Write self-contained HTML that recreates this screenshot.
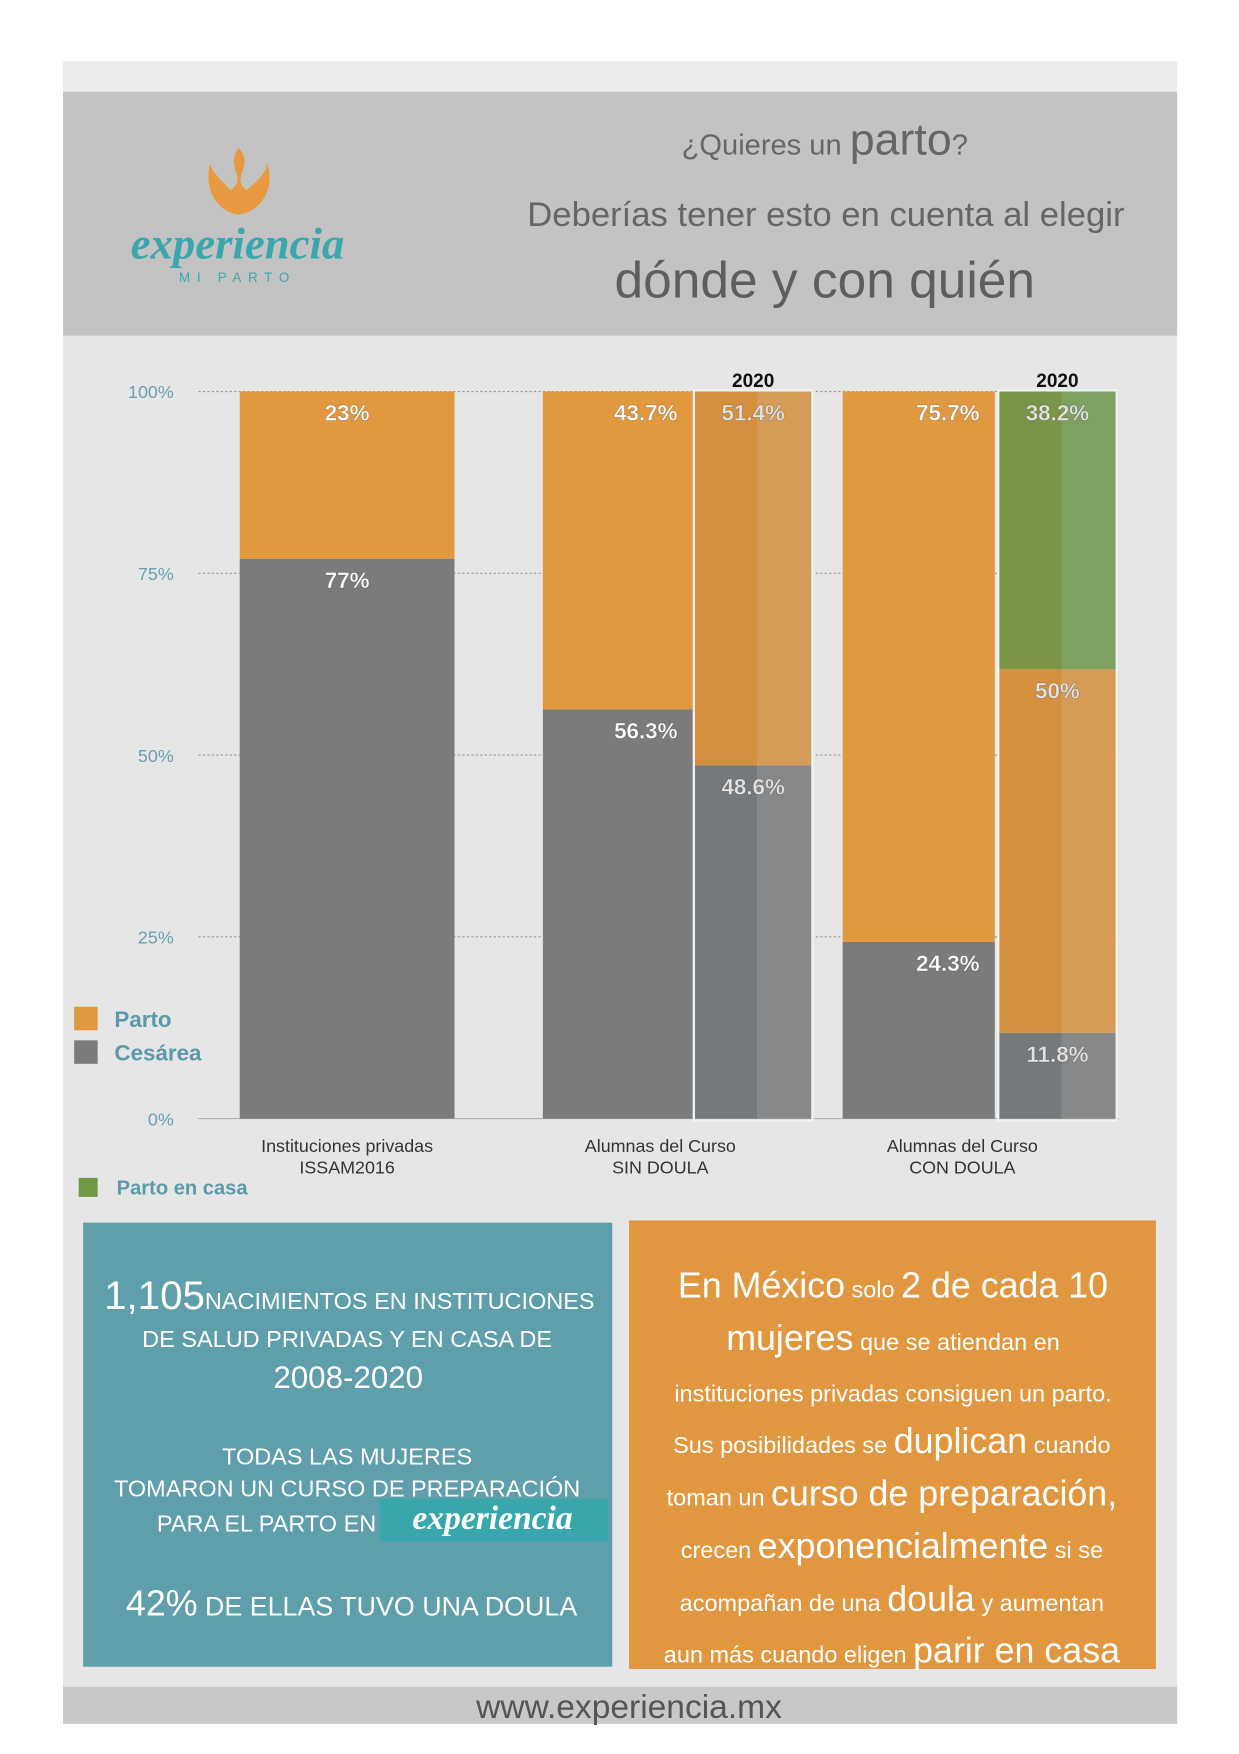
<!DOCTYPE html>
<html><head><meta charset="utf-8"><style>
html,body{margin:0;padding:0;background:#fff}
svg{display:block;font-family:"Liberation Sans","DejaVu Sans",sans-serif}
</style></head><body>
<svg id="chart" width="1239" height="1754" viewBox="0 0 1107 1568" xmlns="http://www.w3.org/2000/svg">
<rect x="0" y="0" width="1107" height="1568" fill="#fff"/>
<rect x="56" y="55" width="996" height="1486" fill="#e6e6e6"/>
<rect x="56" y="55" width="996" height="27" fill="#ebebeb"/>
<rect x="56" y="82" width="996" height="218" fill="#c3c3c3"/>
<g>
<path d="M213 132 C200 150 222 158 206 170 C196 160 186 150 188 145 C182 165 190 188 213 192 C236 188 246 165 238 145 C240 152 230 162 220 170 C205 158 228 150 213 132Z" fill="#e8993f"/>
<text x="212" y="231" text-anchor="middle" font-size="40" fill="#3aa7ad" font-family="'Liberation Serif',serif" font-style="italic" font-weight="bold">experiencia</text>
<text x="212" y="252" text-anchor="middle" font-size="12" fill="#3aa7ad" letter-spacing="6">MI PARTO</text>
</g>
<text x="737" y="138" text-anchor="middle" fill="#666" font-size="26">¿Quieres un <tspan font-size="40">parto</tspan>?</text>
<text x="738" y="202" text-anchor="middle" fill="#666" font-size="31">Deberías tener esto en cuenta al elegir</text>
<text x="737" y="266" text-anchor="middle" fill="#5e5e5e" font-size="46">dónde y con quién</text>
<g id="grid"></g>
<g id="bars"></g>
<g id="labels"></g>
<g>
<rect x="66" y="900" width="21" height="21" fill="#e0993f"/>
<text x="102" y="918" font-size="20" fill="#5b9aa8" font-weight="bold">Parto</text>
<rect x="66" y="930" width="21" height="21" fill="#7b7b7b"/>
<text x="102" y="948" font-size="20" fill="#5b9aa8" font-weight="bold">Cesárea</text>
<rect x="70" y="1053" width="17" height="17" fill="#6f9a45"/>
<text x="104" y="1068" font-size="18" fill="#5b9aa8" font-weight="bold">Parto en casa</text>
</g>
<rect x="74" y="1093" width="473" height="397" fill="#5f9eab"/>
<g fill="#fff" text-anchor="middle" font-size="21">
<text x="312" y="1170"><tspan font-size="36">1,105</tspan>NACIMIENTOS EN INSTITUCIONES</text>
<text x="310" y="1204">DE SALUD PRIVADAS Y EN CASA DE</text>
<text x="311" y="1241" font-size="28">2008-2020</text>
<text x="310" y="1309">TODAS LAS MUJERES</text>
<text x="310" y="1338">TOMARON UN CURSO DE PREPARACIÓN</text>
<text x="238" y="1369">PARA EL PARTO EN</text>
<rect x="339" y="1340" width="204" height="38" fill="#38a6ad"/>
<text x="440" y="1367" font-size="30" font-style="italic" font-weight="bold" font-family="'Liberation Serif',serif">experiencia</text>
<text x="314" y="1444" font-size="24"><tspan font-size="32">42%</tspan> DE ELLAS  TUVO UNA DOULA</text>
</g>
<rect x="562" y="1091" width="471" height="401" fill="#e1973f"/>
<g fill="#fff" text-anchor="middle" font-size="21">
<text x="798" y="1160" font-size="21"><tspan font-size="32">En México</tspan> solo <tspan font-size="32">2 de cada 10</tspan></text>
<text x="798" y="1207"><tspan font-size="32">mujeres</tspan> que se atiendan en</text>
<text x="798" y="1253">instituciones privadas consiguen un parto.</text>
<text x="797" y="1299">Sus posibilidades se <tspan font-size="32">duplican</tspan> cuando</text>
<text x="797" y="1346">toman un <tspan font-size="32">curso de preparación,</tspan></text>
<text x="797" y="1393">crecen <tspan font-size="32">exponencialmente</tspan> si se</text>
<text x="797" y="1440">acompañan de una <tspan font-size="32">doula</tspan> y aumentan</text>
<text x="797" y="1486">aun más cuando eligen <tspan font-size="32">parir en casa</tspan></text>
</g>
<rect x="56" y="1508" width="996" height="33" fill="#c8c8c8"/>
<text x="562" y="1536" text-anchor="middle" font-size="30" fill="#555">www.experiencia.mx</text>
</svg>
<script>
const ticks=[0,25,50,75,100];
const tickLabels=["0%","25%","50%","75%","100%"];
const categories=["Instituciones privadas|ISSAM2016","Alumnas del Curso|SIN DOULA","Alumnas del Curso|CON DOULA"];
const cesarea=[77,56.3,24.3];
const parto=[23,43.7,75.7];
const cesarea2020=[null,48.6,11.8];
const parto2020=[null,51.4,50];
const casa2020=[null,0,38.2];
const NS="http://www.w3.org/2000/svg";
const y0=1000,y1=350;
function y(v){return y0-(y0-y1)*v/100;}
function mk(tag,attrs,parent){const e=document.createElementNS(NS,tag);for(const k in attrs)e.setAttribute(k,attrs[k]);parent.appendChild(e);return e;}
const grid=document.getElementById('grid'),bars=document.getElementById('bars'),labels=document.getElementById('labels');
ticks.forEach((t,i)=>{
 const l=mk('line',{x1:177,x2:1000,y1:y(t),y2:y(t),stroke:t===0?'#aaa':'#999','stroke-dasharray':t===0?'':'2,2','stroke-width':1},grid);
 
 
 const tx=mk('text',{x:155,y:y(t)+6,'text-anchor':'end','font-size':16,fill:'#6aa0b0'},grid);
 tx.textContent=tickLabels[i];
 
 
});
const mainX=[[214,406],[485,619],[753,889]];
const ovX=[null,[621,725],[893,997]];
function lbl(x,yy,txt,col){const t=mk('text',{x:x,y:yy,'text-anchor':'middle','font-size':20,'font-weight':'bold',fill:col,stroke:'rgba(0,0,0,0.25)','stroke-width':0.6},labels);t.textContent=txt;
 
 }
categories.forEach((c,i)=>{
 const [a,b]=mainX[i];
 const r1=mk('rect',{x:a,y:y(cesarea[i]),width:b-a,height:y0-y(cesarea[i]),fill:'#7b7b7b'},bars);
 
 
 const r2=mk('rect',{x:a,y:y(100),width:b-a,height:y(cesarea[i])-y(100),fill:'#e0993f'},bars);
 
 
 const cx=i===0?(a+b)/2:b-42;
 lbl(cx,y(100)+26,parto[i]+'%','#fff');
 lbl(cx,y(cesarea[i])+26,cesarea[i]+'%','#fff');
 const parts=c.split('|');
 const cx2=(mainX[i][0]+(ovX[i]?ovX[i][1]:mainX[i][1]))/2-(i?40:0);
 const t1=mk('text',{x:i?cx2+25:cx2,y:1030,'text-anchor':'middle','font-size':16,fill:'#333'},labels);t1.textContent=parts[0];
 
 
 const t2=mk('text',{x:i?cx2+25:cx2,y:1049,'text-anchor':'middle','font-size':16,fill:'#333'},labels);t2.textContent=parts[1];
 
 
 if(ovX[i]){
  const [p,q]=ovX[i];const m=(p+q)/2;
  const segs=[[0,cesarea2020[i],'#76797b','#86888a'],[cesarea2020[i],cesarea2020[i]+parto2020[i],'#d4903f','#d59b57'],[cesarea2020[i]+parto2020[i],cesarea2020[i]+parto2020[i]+casa2020[i],'#7a9548','#7ea060']];
  segs.forEach(s=>{if(s[1]-s[0]<=0)return;
   const r=mk('rect',{x:p,y:y(s[1]),width:m-p+4,height:y(s[0])-y(s[1]),fill:s[2]},bars);
   
   
   const r2b=mk('rect',{x:m+4,y:y(s[1]),width:q-m-4,height:y(s[0])-y(s[1]),fill:s[3]},bars);
   
   
  });
  const fr=mk('rect',{x:p-1,y:y(100)-1,width:q-p+2,height:y0-y(100)+3,fill:'none',stroke:'#eef2f4','stroke-width':2},bars);
  
  
  const yr=mk('text',{x:m,y:346,'text-anchor':'middle','font-size':17,'font-weight':'bold',fill:'#111'},labels);yr.textContent='2020';
  
  
  const top=cesarea2020[i]+parto2020[i]+casa2020[i];
  if(casa2020[i]>0){lbl(m,y(top)+26,casa2020[i]+'%','#e4e4e4');lbl(m,y(cesarea2020[i]+parto2020[i])+26,parto2020[i]+'%','#e4e4e4');}
  else lbl(m,y(top)+26,parto2020[i]+'%','#e4e4e4');
  lbl(m,y(cesarea2020[i])+26,cesarea2020[i]+'%','#e4e4e4');
 }
});
</script>
</body></html>
